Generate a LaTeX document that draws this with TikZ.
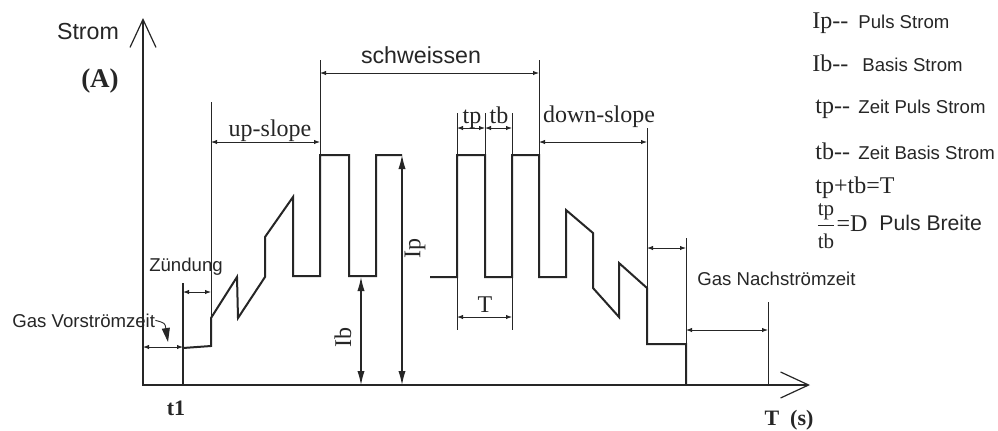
\documentclass[tikz,border=0pt]{standalone}
\usepackage{fontspec}
\setmainfont{Liberation Serif}
\setsansfont{Liberation Sans}
\usepackage{xcolor}
\usetikzlibrary{arrows.meta}
\definecolor{ink}{HTML}{262626}

\begin{document}
\begin{tikzpicture}[
 x=0.5pt,y=-0.5pt,
 every node/.style={inner sep=0pt,text=ink},
 wlab/.style={font=\fontsize{12}{14}\selectfont},
 wsans/.style={font=\sffamily\fontsize{9.3}{11}\selectfont},
 wbig/.style={font=\sffamily\fontsize{11.6}{13}\selectfont},
 wbold/.style={font=\bfseries\fontsize{11}{13}\selectfont},
 waxis/.style={draw=ink,line width=1.2pt,
 {Straight Barb[length=14pt,width=13pt,line width=0.6pt]}-{Straight Barb[length=14pt,width=13pt,line width=0.6pt]}},
 wwave/.style={draw=ink,line width=1pt,line join=miter},
 wext/.style={draw=ink,line width=0.45pt},
 wdim/.style={wext,{Latex[length=3pt,width=2.2pt]}-{Latex[length=3pt,width=2.2pt]}},
 wamp/.style={wext,line width=0.6pt,{Latex[length=7pt,width=3.6pt]}-{Latex[length=7pt,width=3.6pt]}}]
\path[use as bounding box,fill=white] (0,0) rectangle (998,430);
\draw[waxis] (143,18) -- (143,385) -- (810,385);
\draw[wwave] (183,348) -- (211,346) -- (211,318) -- (237,277) -- (238,318) -- (265,277)
 -- (265,237) -- (293,197) -- (293,276) -- (320,276) -- (320,155) -- (349,155) -- (349,276)
 -- (376,276) -- (376,155) -- (402,155);
\draw[wwave] (430,277) -- (457,277) -- (457,155) -- (485,155) -- (485,277) -- (512,277)
 -- (512,155) -- (539,155) -- (539,277) -- (566,277) -- (566,210) -- (593,233) -- (593,288)
 -- (619,317) -- (619,263) -- (647,288) -- (647,344) -- (686,344) -- (686,385);
\draw[wext,line width=0.7pt] (183,283) -- (183,385);
\draw[wext] (211,102) -- (211,318);
\draw[wext] (320,60) -- (320,155);
\draw[wext] (539,60) -- (539,155);
\draw[wext] (457,113) -- (457,155);
\draw[wext] (485,113) -- (485,155);
\draw[wext] (512,113) -- (512,155);
\draw[wext] (457,277) -- (457,330);
\draw[wext] (512,277) -- (512,330);
\draw[wext] (647,128) -- (647,344);
\draw[wext] (686,238) -- (686,344);
\draw[wext] (768,302) -- (768,385);
\draw[wdim] (143,347) -- (183,347);
\draw[wdim] (183,292) -- (211,292);
\draw[wdim] (211,142) -- (320,142);
\draw[wdim] (320,73) -- (539,73);
\draw[wdim] (457,128) -- (485,128);
\draw[wdim] (485,128) -- (512,128);
\draw[wdim] (457,317) -- (512,317);
\draw[wdim] (539,142) -- (647,142);
\draw[wdim] (647,248) -- (686,248);
\draw[wdim] (686,330) -- (768,330);
\draw[wamp] (361,277) -- (361,385);
\draw[wamp] (402,155) -- (402,385);
\node[wbig,anchor=base] (strom) at (88,39) {Strom};
\node[font=\bfseries\fontsize{13.5}{15}\selectfont,anchor=base] (amp) at (100,87) {(A)};
\node[wbig,anchor=base] (weld) at (421,63) {schweissen};
\node[wlab,anchor=base] (upslope) at (270,136) {up-slope};
\node[wlab,anchor=base] (downslope) at (599,122) {down-slope};
\node[wlab,anchor=base] (tplab) at (472,123) {tp};
\node[wlab,anchor=base] (tblab) at (499,123) {tb};
\node[wlab,anchor=base] (period) at (485,312) {T};
\node[wlab,rotate=90] (iplab) at (415,248) {Ip};
\node[wlab,rotate=90] (iblab) at (343,337) {Ib};
\node[wsans,anchor=base] (ignite) at (186,271) {Zündung};
\node[wsans,anchor=base west] (pregas) at (12,327) {Gas Vorströmzeit};
\node[wsans,anchor=base west] (postgas) at (697,285) {Gas Nachströmzeit};
\node[wbold,anchor=base] (tone) at (176,415) {t1};
\node[wbold,anchor=base] (time) at (789,425) {T\ \ (s)};
\draw[wext,-{Triangle[length=7pt,width=4pt]}] (pregas.east) .. controls (165,323) .. (168,342);
\node[wlab,anchor=base west] (kip) at (812,28) {Ip{-}{-}};
\node[wlab,anchor=base west] (kib) at (812,71) {Ib{-}{-}};
\node[wlab,anchor=base west] (ktp) at (815,113) {tp{-}{-}};
\node[wlab,anchor=base west] (ktb) at (815,159) {tb{-}{-}};
\node[wlab,anchor=base west] (ksum) at (815,193) {tp+tb=T};
\node[wlab,anchor=west] (kfrac) at (815,226)
 {$\displaystyle\frac{\mbox{\fontsize{10.5}{12}\selectfont tp}}{\mbox{\fontsize{10.5}{12}\selectfont tb}}$=D};
\node[wsans,anchor=base west] (dip) at (858,28) {Puls Strom};
\node[wsans,anchor=base west] (dib) at (862,71) {Basis Strom};
\node[wsans,anchor=base west] (dtp) at (858,113) {Zeit Puls Strom};
\node[wsans,anchor=base west] (dtb) at (858,159) {Zeit Basis Strom};
\node[wsans,font=\sffamily\fontsize{10.6}{12}\selectfont,anchor=base west] (dfrac) at (879,230) {Puls Breite};
\end{tikzpicture}
\end{document}
